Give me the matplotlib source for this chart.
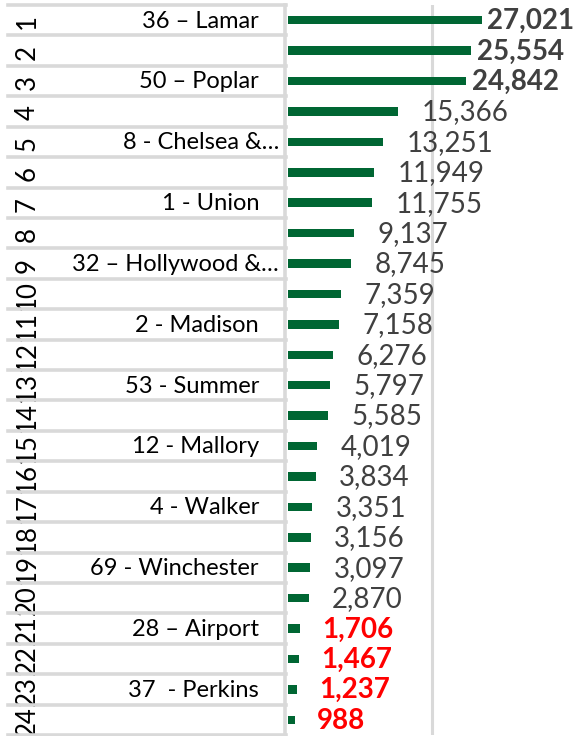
import numpy as np
import matplotlib.pyplot as plt
import matplotlib.transforms as mtransforms
from matplotlib.lines import Line2D

plt.rcParams['font.family'] = ['Lato', 'DejaVu Sans']

ranks = list(range(1, 25))
labels = ['36 – Lamar', '', '50 – Poplar', '', '8 - Chelsea &…', '', '1 - Union', '',
          '32 – Hollywood &…', '', '2 - Madison', '', '53 - Summer', '', '12 - Mallory', '',
          '4 - Walker', '', '69 - Winchester', '', '28 – Airport', '', '37  - Perkins', '']
values = [27021, 25554, 24842, 15366, 13251, 11949, 11755, 9137, 8745, 7359, 7158, 6276,
          5797, 5585, 4019, 3834, 3351, 3156, 3097, 2870, 1706, 1467, 1237, 988]

W, H = 577, 736
fig = plt.figure(figsize=(W / 100, H / 100), dpi=100)
ax = fig.add_axes([288 / W, 1 / H, 287 / W, 730 / H])

y = np.arange(len(values)) + 0.5
ax.barh(y, values, height=0.28, color='#006633')
ax.set_xlim(0, 40000)
ax.set_ylim(len(values), 0)
ax.axvline(20000, color='#d9d9d9', lw=2.2, zorder=0)
ax.set_xticks([])
ax.set_yticks([])
for s in ax.spines.values():
    s.set_visible(False)

grid = '#d9d9d9'
tr = mtransforms.blended_transform_factory(fig.transFigure, ax.transData)
for k in range(len(values) + 1):
    fig.add_artist(Line2D([8 / W, 286 / W], [k, k], transform=tr, color=grid, lw=2.6))
fig.add_artist(Line2D([285 / W, 285 / W], [0, len(values)], transform=tr, color=grid, lw=2.6))

for i, (r, lab) in enumerate(zip(ranks, labels)):
    ax.text(27 / W, y[i] + 0.05, str(r), transform=tr, rotation=90, ha='center', va='center',
            fontsize=18.5, color='black')
    if lab:
        xr = 279 if lab.endswith('…') else 259
        ax.text(xr / W, y[i] + 0.03, lab, transform=tr, ha='right', va='center',
                fontsize=17, color='black')

for i, v in enumerate(values):
    if i < 3:
        col, wt, off = '#404040', 'bold', 4
    elif i >= 20:
        col, wt, off = '#ff0000', 'bold', 16
    else:
        col, wt, off = '#404040', 'normal', 17
    ax.annotate(f'{v:,}', (v, y[i] + 0.03), xytext=(off, 0), textcoords='offset points',
                ha='left', va='center', fontsize=20, fontweight=wt, color=col,
                annotation_clip=False)

fig.savefig('out.png', dpi=100)
